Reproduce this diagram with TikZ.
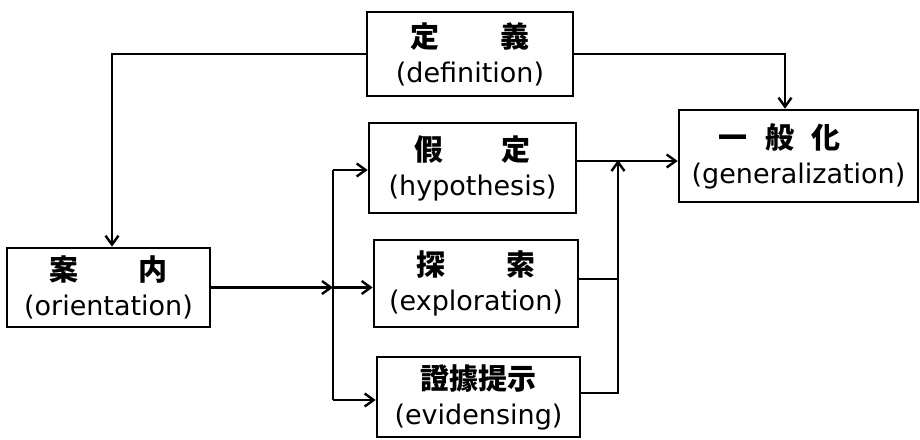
\documentclass[tikz,border=0pt]{standalone}
\usepackage{fontspec}
\setmainfont{DejaVu Sans}
\newfontfamily\cjk{Noto Sans CJK JP}
\usetikzlibrary{arrows.meta}
\begin{document}
\begin{tikzpicture}[x=1pt,y=-1pt,
  box/.style={draw, line width=2.6pt, inner sep=0pt, align=center,
    font=\fontsize{27}{35}\selectfont},
  ln/.style={line width=2.4pt},
  arr/.style={line width=2.4pt, -{Straight Barb[length=9pt,width=13pt,line width=2.4pt]}}]
\useasboundingbox (0,0) rectangle (920,439);
\newcommand\cjkt[1]{{\cjk\bfseries\fontsize{29}{35}\selectfont #1}}
\node[box, minimum width=206pt, minimum height=84pt] (def) at (470,54)
  {\cjkt{定\hspace{2.1em}義}\\(definition)};
\node[box, minimum width=207pt, minimum height=90pt] (hyp) at (472.5,168)
  {\cjkt{假\hspace{2em}定}\\(hypothesis)};
\node[box, minimum width=204pt, minimum height=87pt] (exp) at (476,283.5)
  {\cjkt{探\hspace{2.1em}索}\\(exploration)};
\node[box, minimum width=203pt, minimum height=80pt] (evi) at (478.5,397)
  {\cjkt{證據提示}\\(evidensing)};
\node[box, minimum width=203pt, minimum height=79pt] (ori) at (108.5,287.5)
  {\cjkt{案\hspace{2.1em}内}\\(orientation)};
\node[box, minimum width=239pt, minimum height=92pt] (gen) at (798.5,156)
  {\cjkt{一\hspace{0.6em}般\hspace{0.6em}化}\hspace*{1.4em}\\(generalization)};
% definition -> orientation / generalization
\draw[arr] (def.west) -| ([xshift=3.5pt]ori.north);
\draw[arr] (def.east) -| ([xshift=-13.5pt]gen.north);
% orientation -> branches
\coordinate (jm) at (333,287.5);
\coordinate (jt) at (333,170);
\coordinate (jb) at (333,400);
\draw[arr] (ori.east |- jm) -- (jm);
\draw[arr] (jm) -- (exp.west |- jm);
\draw[ln] (jt) -- (jb);
\draw[arr] (jt) -- (hyp.west |- jt);
\draw[arr] (jb) -- (evi.west |- jb);
% branches -> generalization
\coordinate (r1) at (618,161);
\coordinate (r2) at (618,279);
\coordinate (r3) at (618,393);
\draw[arr] (hyp.east |- r1) -- (gen.west |- r1);
\draw[ln] (exp.east |- r2) -- (r2);
\draw[arr] (evi.east |- r3) -- (r3) -- ([yshift=1pt]r1);
\end{tikzpicture}
\end{document}
